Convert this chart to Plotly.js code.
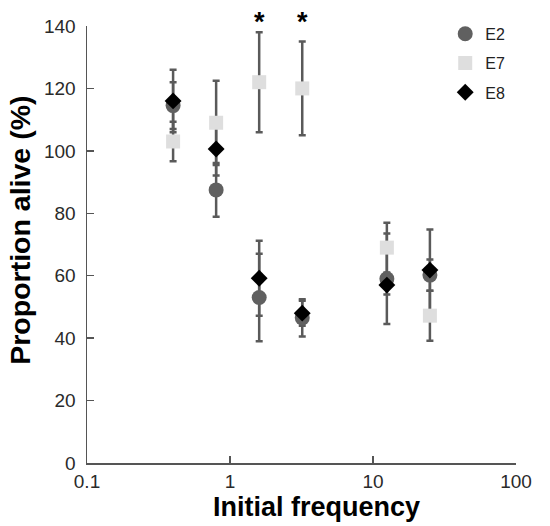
<!DOCTYPE html>
<html>
<head>
<meta charset="utf-8">
<script src="https://cdn.plot.ly/plotly-3.0.1.min.js"></script>
<style>html,body{margin:0;padding:0;background:#fff;}#chart{width:550px;height:526px;}</style>
</head>
<body>
<div id="chart"></div>
<script>
// Initial frequency (x) for each group
var freq = [0.4, 0.8, 1.6, 3.2, 12.5, 25];
// E2 (circles)
var e2Mean = [114.5, 87.5, 53, 46.5, 59, 60.2];
var e2Err  = [7.5, 8.6, 14, 6, 14.5, 5];
// E7 (squares)
var e7Mean = [103, 109, 122, 120, 69, 47.2];
var e7Err  = [6.3, 13.5, 16, 15, 8, 8];
// E8 (diamonds)
var e8Mean = [116, 100.6, 59.2, 48, 57, 61.8];
var e8Err  = [10, 8.5, 12, 4, 3, 13];
// significance markers
var starX = [1.6, 3.2];
var starY = [141.3, 141.3];
var starText = ['*', '*'];
// axis ticks
var xTickVals = [0.1, 1, 10, 100];
var xTickText = ['0.1', '1', '10', '100'];
var yTickVals = [0, 20, 40, 60, 80, 100, 120, 140];
var yRange = [0, 140];
var xTitle = 'Initial frequency';
var yTitle = 'Proportion alive (%)';

var FONT = 'Liberation Sans, Arial, Helvetica, sans-serif';
var errColor = '#5a5a5a';

function errTrace(mean, err) {
  return {
    x: freq, y: mean, type: 'scatter', mode: 'markers',
    marker: {size: 1, opacity: 0},
    error_y: {type: 'data', array: err, visible: true, color: errColor, thickness: 2.5, width: 3.5},
    showlegend: false, hoverinfo: 'skip', cliponaxis: false
  };
}
function markTrace(mean, name, symbol, size, color, grp) {
  return {
    x: freq, y: mean, type: 'scatter', mode: 'markers', name: name,
    legendgroup: grp,
    marker: {symbol: symbol, size: size, color: color, line: {width: 0}},
    cliponaxis: false
  };
}

var data = [
  errTrace(e2Mean, e2Err),
  errTrace(e7Mean, e7Err),
  errTrace(e8Mean, e8Err),
  markTrace(e2Mean, 'E2', 'circle', 15, '#606060', 'a'),
  markTrace(e7Mean, 'E7', 'square', 14, '#dedede', 'b'),
  markTrace(e8Mean, 'E8', 'diamond', 13, '#000000', 'c')
];

var annotations = starX.map(function (sx, i) {
  return {
    x: Math.log10(sx), y: starY[i] / yRange[1], xref: 'x', yref: 'paper',
    text: starText[i], showarrow: false,
    xanchor: 'center', yanchor: 'middle',
    font: {family: FONT, size: 27, color: '#000', weight: 'bold'}
  };
});
annotations.push({
  x: 0.536, y: -0.1, xref: 'paper', yref: 'paper',
  text: xTitle, showarrow: false, xanchor: 'center', yanchor: 'middle',
  font: {family: FONT, size: 27, color: '#000', weight: 'bold'}
});
annotations.push({
  x: -0.157, y: 0.533, xref: 'paper', yref: 'paper',
  text: yTitle, showarrow: false, textangle: -90, xanchor: 'center', yanchor: 'middle',
  font: {family: FONT, size: 28.5, color: '#000', weight: 'bold'}
});

var layout = {
  width: 550, height: 526,
  margin: {l: 87, r: 34, t: 26, b: 63},
  paper_bgcolor: '#fff', plot_bgcolor: '#fff',
  font: {family: FONT, size: 19, color: '#2a2a2a'},
  showlegend: true,
  annotations: annotations,
  legend: {
    x: 0.835, y: 1.021, xanchor: 'left', yanchor: 'top',
    bgcolor: 'rgba(0,0,0,0)', borderwidth: 0,
    font: {family: FONT, size: 16, color: '#222'},
    traceorder: 'grouped', tracegroupgap: 5.5
  },
  xaxis: {
    type: 'log', range: [-1, 2],
    tickvals: xTickVals, ticktext: xTickText,
    ticks: 'inside', ticklen: 7, tickwidth: 1.3, tickcolor: '#555',
    showline: true, linecolor: '#555', linewidth: 1.5,
    showgrid: false, zeroline: false, automargin: false,
    ticklabelstandoff: 1,
    tickfont: {family: FONT, size: 19, color: '#2a2a2a'}
  },
  yaxis: {
    range: yRange, tickvals: yTickVals,
    ticks: 'inside', ticklen: 7, tickwidth: 1.3, tickcolor: '#555',
    showline: true, linecolor: '#555', linewidth: 1.5,
    showgrid: false, zeroline: false, automargin: false,
    ticklabelstandoff: 6,
    tickfont: {family: FONT, size: 19, color: '#2a2a2a'}
  }
};

Plotly.newPlot('chart', data, layout, {displayModeBar: false, staticPlot: true});
</script>
</body>
</html>
